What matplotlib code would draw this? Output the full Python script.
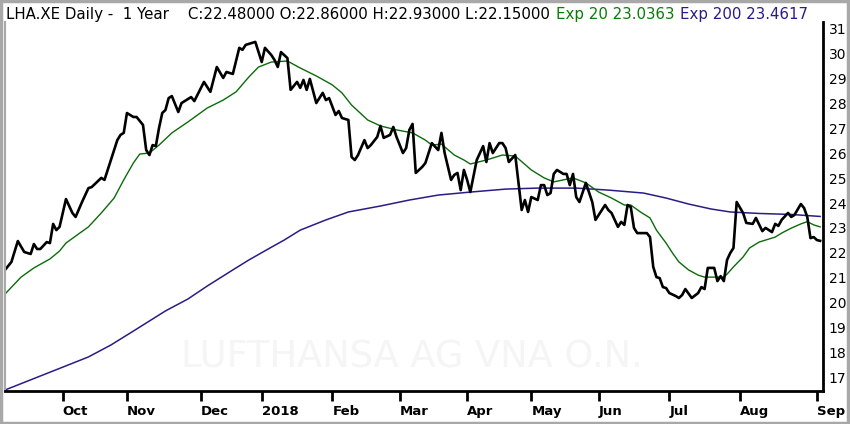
import matplotlib
matplotlib.use('Agg')
from matplotlib import pyplot as plt
from matplotlib.patches import Rectangle

# trading-session number (0 = first bar on the chart) and closing price
close_day = [0, 2, 4, 6, 8, 9, 10, 11, 13, 14, 15, 16, 17, 19, 21, 22, 24, 26, 27, 30,
             31, 33, 35, 36, 37, 38, 40, 41, 43, 44, 45, 46, 47, 48, 49, 50, 51, 52, 54, 55,
             58, 59, 62, 64, 66, 68, 69, 71, 73, 74, 75, 78, 80, 81, 83, 84, 85, 86, 88, 89,
             91, 92, 93, 94, 95, 97, 99, 100, 101, 103, 104, 105, 107, 108, 109, 110, 112, 113, 114, 116,
             117, 118, 120, 121, 122, 124, 125, 126, 127, 128, 130, 131, 133, 135, 136, 137, 139, 140, 141, 142,
             143, 144, 145, 147, 149, 150, 151, 152, 154, 155, 156, 157, 159, 161, 162, 163, 164, 166, 167, 168,
             169, 170, 171, 172, 174, 175, 176, 177, 178, 179, 181, 183, 184, 187, 188, 189, 191, 192, 193, 194,
             195, 196, 197, 200, 201, 202, 203, 204, 205, 206, 207, 209, 210, 211, 212, 214, 216, 217, 218, 219,
             221, 222, 223, 224, 225, 226, 227, 228, 230, 231, 233, 234, 236, 237, 239, 240, 241, 242, 244, 245,
             246, 248, 249, 250, 251, 252, 253, 254]
close = [21.31, 21.63, 22.47, 22.03, 21.95, 22.35, 22.15, 22.15, 22.43, 22.39, 23.16, 22.91, 23.04, 24.16, 23.60, 23.44, 24.04, 24.60, 24.64, 25.01,
         24.93, 25.73, 26.53, 26.74, 26.82, 27.62, 27.46, 27.46, 27.14, 26.13, 25.93, 26.33, 26.29, 27.02, 27.62, 27.74, 28.22, 28.30, 27.66, 28.02,
         28.26, 28.10, 28.87, 28.47, 29.47, 29.03, 29.27, 29.19, 30.24, 30.16, 30.36, 30.48, 29.67, 30.24, 29.95, 29.75, 29.47, 30.07, 29.83, 28.55,
         28.87, 28.63, 28.95, 28.55, 28.99, 28.02, 28.43, 28.14, 28.22, 27.54, 27.70, 27.42, 27.34, 25.85, 25.73, 25.93, 26.53, 26.21, 26.33, 26.66,
         27.10, 26.62, 26.74, 27.06, 26.66, 26.01, 26.21, 26.94, 27.18, 25.21, 25.45, 25.61, 26.41, 26.13, 26.82, 26.01, 24.93, 25.13, 25.21, 24.52,
         25.33, 24.93, 24.44, 25.73, 26.29, 25.65, 26.41, 26.01, 26.41, 26.41, 26.21, 25.65, 25.93, 23.72, 24.12, 23.64, 24.24, 24.12, 24.72, 24.72,
         24.32, 24.40, 25.17, 25.33, 25.17, 25.17, 24.72, 25.17, 24.24, 24.04, 24.81, 24.04, 23.32, 23.92, 23.72, 23.60, 23.04, 23.24, 23.12, 23.92,
         23.84, 23.00, 22.79, 22.79, 22.63, 21.43, 21.02, 20.98, 20.62, 20.58, 20.38, 20.26, 20.18, 20.30, 20.54, 20.18, 20.38, 20.62, 20.54, 21.39,
         21.39, 20.86, 21.06, 20.86, 21.71, 21.99, 22.19, 24.04, 23.60, 23.20, 23.16, 23.40, 22.87, 23.00, 22.83, 23.16, 23.08, 23.32, 23.60, 23.44,
         23.52, 23.96, 23.80, 23.44, 22.59, 22.63, 22.51, 22.48]

ema20_day = [0, 5, 9, 14, 17, 19, 22, 26, 30, 34, 37, 40, 42, 45, 48, 52, 57, 63, 68, 72,
             76, 79, 83, 88, 92, 97, 102, 105, 108, 113, 117, 122, 127, 131, 133, 136, 140, 143, 145, 150,
             155, 159, 164, 168, 171, 174, 177, 181, 185, 189, 193, 195, 198, 201, 203, 206, 208, 210, 213, 216,
             218, 221, 224, 225, 227, 230, 232, 235, 238, 240, 242, 245, 248, 250, 252, 254]
ema20 = [20.34, 21.02, 21.39, 21.75, 22.07, 22.39, 22.67, 23.04, 23.60, 24.20, 24.93, 25.61, 25.97, 26.01, 26.33, 26.82, 27.26, 27.82, 28.14, 28.47,
         29.07, 29.47, 29.67, 29.71, 29.43, 29.11, 28.75, 28.43, 27.94, 27.34, 27.10, 26.94, 26.82, 26.53, 26.33, 26.37, 25.93, 25.73, 25.57, 25.73,
         25.93, 25.89, 25.33, 25.01, 24.85, 24.93, 25.01, 24.81, 24.44, 24.20, 23.92, 23.92, 23.64, 23.40, 22.91, 22.39, 21.99, 21.63, 21.31, 21.10,
         21.02, 21.02, 21.02, 21.14, 21.43, 21.83, 22.19, 22.43, 22.55, 22.63, 22.79, 22.99, 23.16, 23.25, 23.12, 23.04]

ema200_day = [0, 9, 18, 26, 33, 40, 50, 57, 63, 71, 76, 82, 87, 92, 100, 107, 117, 126, 135, 145,
              156, 166, 178, 188, 199, 206, 213, 220, 226, 235, 245, 254]
ema200 = [16.48, 16.94, 17.40, 17.81, 18.29, 18.85, 19.66, 20.14, 20.66, 21.31, 21.71, 22.15, 22.51, 22.91, 23.32, 23.64, 23.88, 24.12, 24.32, 24.44,
          24.56, 24.60, 24.60, 24.52, 24.40, 24.20, 23.96, 23.76, 23.64, 23.58, 23.54, 23.46]

# first session of each month
month_day = [18, 38, 61, 80, 102, 123, 144, 164, 185, 207, 229, 253]
month_lbl = ['Oct', 'Nov', 'Dec', '2018', 'Feb', 'Mar', 'Apr', 'May', 'Jun', 'Jul', 'Aug', 'Sep']
price_ticks = list(range(17, 32))

plt.rcParams['font.family'] = 'DejaVu Sans'

fig = plt.figure(figsize=(8.5, 4.24), dpi=100)
fig.patch.set_facecolor('white')
# grey frame round the whole picture
fig.patches.append(Rectangle((0.001, 0.002), 0.997, 0.995, transform=fig.transFigure,
                             fill=False, edgecolor='#a8a8a8', linewidth=2.5))

ax = fig.add_axes([5/850, 33/424, 818/850, 369/424])

ax.text(0.497, 0.092, 'LUFTHANSA AG VNA O.N.', transform=ax.transAxes, ha='center', va='center',
        fontsize=26.5, color='#f5f5f5', zorder=0)

ax.plot(ema200_day, ema200, color='#2b1b86', linewidth=1.1)
ax.plot(ema20_day, ema20, color='#0b6b0b', linewidth=1.0)
ax.plot(close_day, close, color='black', linewidth=1.9)

ax.set_xlim(0, 254.9)
ax.set_ylim(16.44, 31.28)

ax.spines['top'].set_visible(False)
ax.spines['left'].set_color('#a8a8a8')
ax.spines['left'].set_linewidth(1.5)
ax.spines['bottom'].set_linewidth(2)
ax.spines['right'].set_linewidth(2)

ax.set_xticks(month_day)
ax.set_xticklabels(month_lbl, ha='left', fontsize=9.5, fontweight='bold')
ax.tick_params(axis='x', direction='out', length=7, width=2, pad=3)

ax.yaxis.tick_right()
ax.set_yticks(price_ticks)
ax.set_yticklabels([str(v) for v in price_ticks], fontsize=10)
ax.tick_params(axis='y', length=0, pad=4)

fig.text(6/850, 1 - 19.5/424, 'LHA.XE Daily -  1 Year    C:22.48000 O:22.86000 H:22.93000 L:22.15000',
         fontsize=10.8, color='black', va='baseline')
fig.text(556/850, 1 - 19.5/424, 'Exp 20 23.0363', fontsize=10.8, color='#0b7a0b', va='baseline')
fig.text(680/850, 1 - 19.5/424, 'Exp 200 23.4617', fontsize=10.8, color='#2b1b86', va='baseline')

fig.savefig('out.png', dpi=100)
